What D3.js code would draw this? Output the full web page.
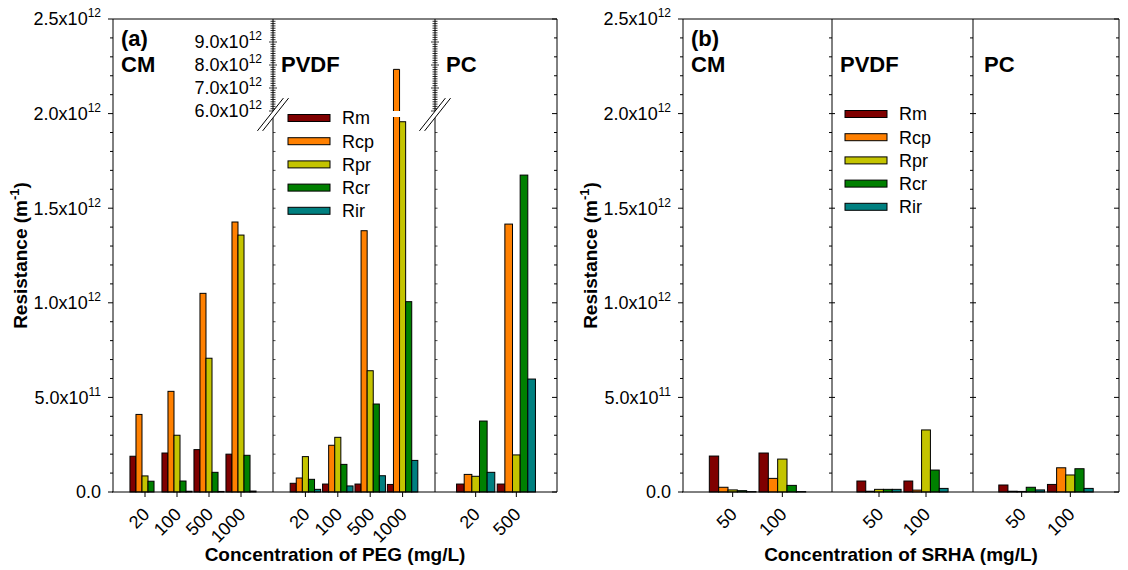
<!DOCTYPE html>
<html>
<head>
<meta charset="utf-8">
<script src="https://cdn.jsdelivr.net/npm/d3@7"></script>
<style>
  body { margin: 0; background: #fff; }
  svg { display: block; font-family: Arial, "Liberation Sans", sans-serif; }
  .bold { font-weight: bold; }
</style>
</head>
<body>
<script>
var series = ["Rm", "Rcp", "Rpr", "Rcr", "Rir"];
var seriesColors = ["#7f0000", "#ff8000", "#c4c400", "#008000", "#008080"];
var membranes = ["CM", "PVDF", "PC"];

var pegConcCM = ["20", "100", "500", "1000"];
var pegConcPVDF = ["20", "100", "500", "1000"];
var pegConcPC = ["20", "500"];
var srhaConc = ["50", "100"];

// resistance in 1e12 m^-1, one row per concentration (Rm, Rcp, Rpr, Rcr, Rir)
var pegCM = [
    [0.189, 0.410, 0.085, 0.057, 0.000],
    [0.206, 0.532, 0.300, 0.058, 0.004],
    [0.224, 1.050, 0.707, 0.104, 0.003],
    [0.200, 1.427, 1.358, 0.194, 0.005]];
var pegPVDF = [
    [0.046, 0.074, 0.187, 0.067, 0.014],
    [0.042, 0.247, 0.289, 0.146, 0.032],
    [0.042, 1.381, 0.641, 0.465, 0.086],
    [0.040, 7.810, 1.957, 1.006, 0.167]];
var pegPC = [
    [0.042, 0.093, 0.083, 0.375, 0.104],
    [0.042, 1.416, 0.196, 1.675, 0.597]];
var srhaCM = [
    [0.190, 0.025, 0.011, 0.007, 0.002],
    [0.206, 0.072, 0.174, 0.035, 0.002]];
var srhaPVDF = [
    [0.058, 0.004, 0.014, 0.014, 0.014],
    [0.058, 0.010, 0.328, 0.116, 0.019]];
var srhaPC = [
    [0.037, 0.004, 0.003, 0.025, 0.011],
    [0.040, 0.128, 0.090, 0.123, 0.019]];

var yTicks = [0, 0.5, 1.0, 1.5, 2.0, 2.5];
var upperTicks = [6, 7, 8, 9];

var width = 1128, height = 570;
var plotTop = 19, plotBottom = 492;

var svg = d3.select("body").append("svg")
    .attr("width", width)
    .attr("height", height);

var y = d3.scaleLinear().domain([0, 2.5]).range([plotBottom, plotTop]);
// upper part of the broken axis (panel a)
var yUp = d3.scaleLinear().domain([6, 10]).range([111, plotTop]);
var breakLow = 117;

var panels = [
    {tag: "(a)", x0: 113, x1: 557, splits: [0, 160, 322, 444],
     conc: [pegConcCM, pegConcPVDF, pegConcPC], values: [pegCM, pegPVDF, pegPC],
     xTitle: "Concentration of PEG (mg/L)", legendX: 288, legendY: 118, broken: true},
    {tag: "(b)", x0: 683, x1: 1119, splits: [0, 149, 290, 436],
     conc: [srhaConc, srhaConc, srhaConc], values: [srhaCM, srhaPVDF, srhaPC],
     xTitle: "Concentration of SRHA (mg/L)", legendX: 845, legendY: 114, broken: false}
];

function sciLabel(sel, v) {
    if (v === 0) { sel.text("0.0"); return; }
    var exp = Math.floor(Math.log10(v * 1e12) + 1e-9);
    var mant = v * 1e12 / Math.pow(10, exp);
    sel.append("tspan").text(mant.toFixed(1) + "x10");
    sel.append("tspan").attr("dy", -8).style("font-size", "12px").text(exp);
}

panels.forEach(function(p) {
    var g = svg.append("g");
    var minor = d3.range(0, 2.501, 0.1);

    // bars first, frame lines on top
    var barLayer = g.append("g");

    g.append("line").attr("x1", p.x0).attr("x2", p.x1).attr("y1", plotTop).attr("y2", plotTop).attr("stroke", "#000");
    g.append("line").attr("x1", p.x0 - 1).attr("x2", p.x1).attr("y1", plotBottom).attr("y2", plotBottom).attr("stroke", "#000");
    g.append("line").attr("x1", p.x0).attr("x2", p.x0).attr("y1", plotTop).attr("y2", plotBottom).attr("stroke", "#000");
    g.append("line").attr("x1", p.x1).attr("x2", p.x1).attr("y1", plotTop).attr("y2", plotBottom).attr("stroke", "#000");

    // left ticks (outward) and right ticks (inward)
    g.selectAll(".lt").data(minor).enter().append("line")
        .attr("x1", function(d, i) { return p.x0 - (i % 5 === 0 ? 5 : 3); })
        .attr("x2", p.x0)
        .attr("y1", function(d) { return y(d); }).attr("y2", function(d) { return y(d); })
        .attr("stroke", "#000");
    g.selectAll(".rt").data(minor).enter().append("line")
        .attr("x1", function(d, i) { return p.x1 - (i % 5 === 0 ? 5 : 3); })
        .attr("x2", p.x1)
        .attr("y1", function(d) { return y(d); }).attr("y2", function(d) { return y(d); })
        .attr("stroke", "#000");

    g.selectAll(".ylab").data(yTicks).enter().append("text")
        .attr("x", p.x0 - 12)
        .attr("y", function(d) { return y(d); })
        .attr("dy", "0.35em")
        .attr("text-anchor", "end")
        .style("font-size", "18px")
        .each(function(d) { sciLabel(d3.select(this), d); });

    // y title
    var yt = g.append("text")
        .attr("class", "bold")
        .attr("transform", "translate(" + (p.x0 - 86) + "," + ((plotTop + plotBottom) / 2) + ") rotate(-90)")
        .attr("text-anchor", "middle")
        .style("font-size", "19px");
    yt.append("tspan").text("Resistance (m");
    yt.append("tspan").attr("dy", -8).style("font-size", "13px").text("-1");
    yt.append("tspan").attr("dy", 8).text(")");

    // x title
    g.append("text")
        .attr("class", "bold")
        .attr("x", (p.x0 + p.x1) / 2)
        .attr("y", 561)
        .attr("text-anchor", "middle")
        .style("font-size", "19px")
        .text(p.xTitle);

    membranes.forEach(function(m, k) {
        var px0 = p.x0 + p.splits[k], px1 = p.x0 + p.splits[k + 1];
        var conc = p.conc[k], vals = p.values[k];
        var xs = d3.scaleLinear().domain([0, conc.length + 1]).range([px0, px1]);
        var unit = xs(1) - xs(0);
        var inner = d3.scaleBand().domain(series).range([-0.47 * unit, 0.47 * unit]);

        // divider with ticks
        if (k > 0) {
            g.append("line").attr("x1", px0).attr("x2", px0).attr("y1", plotTop).attr("y2", plotBottom).attr("stroke", "#000");
            g.selectAll(".dt" + k).data(minor.slice(1, p.broken ? 20 : 25)).enter().append("line")
                .attr("x1", function(d, i) { return px0 - (p.broken ? 0 : 3); })
                .attr("x2", function(d, i) { return px0 + (p.broken ? 2.5 : ((i + 1) % 5 === 0 ? 3 : 0)); })
                .attr("y1", function(d) { return y(d); }).attr("y2", function(d) { return y(d); })
                .attr("stroke", "#000").attr("stroke-width", p.broken ? 0.7 : 1);
            if (p.broken) {
                var up = d3.range(6, 9.951, 0.1);
                g.selectAll(".ut" + k).data(up).enter().append("line")
                    .attr("x1", function(d, i) { return px0 - (i % 10 === 0 ? 4 : 2.5); })
                    .attr("x2", function(d, i) { return px0 + (i % 10 === 0 ? 4 : 2.5); })
                    .attr("y1", function(d) { return yUp(d); }).attr("y2", function(d) { return yUp(d); })
                    .attr("stroke", "#000").attr("stroke-width", 0.8);
                if (k === 1) {
                    g.selectAll(".ul").data(upperTicks).enter().append("text")
                        .attr("x", px0 - 11)
                        .attr("y", function(d) { return yUp(d); })
                        .attr("dy", "0.35em")
                        .attr("text-anchor", "end")
                        .style("font-size", "18px")
                        .each(function(d) { sciLabel(d3.select(this), d); });
                }
                // break marks
                var cy = 114.5, hx = 13, hy = 16.4, off = 2.6;
                g.append("path")
                    .attr("d", "M" + (px0 - hx - off) + "," + (cy + hy) + "L" + (px0 + hx - off) + "," + (cy - hy) +
                        "L" + (px0 + hx + off) + "," + (cy - hy) + "L" + (px0 - hx + off) + "," + (cy + hy) + "Z")
                    .attr("fill", "#fff");
                [-off, off].forEach(function(o) {
                    g.append("line")
                        .attr("x1", px0 - hx + o).attr("y1", cy + hy)
                        .attr("x2", px0 + hx + o).attr("y2", cy - hy)
                        .attr("stroke", "#000");
                });
            }
        }

        // membrane label
        if (k === 0) {
            g.append("text").attr("class", "bold").attr("x", px0 + 8).attr("y", 46)
                .style("font-size", "22px").text(p.tag);
        }
        g.append("text").attr("class", "bold")
            .attr("x", px0 + (k === 2 ? 11 : 8)).attr("y", 72)
            .style("font-size", "22px").text(m);

        // x ticks and labels
        g.selectAll(".xt" + k).data(conc).enter().append("line")
            .attr("x1", function(d, i) { return xs(i + 1); })
            .attr("x2", function(d, i) { return xs(i + 1); })
            .attr("y1", plotBottom).attr("y2", plotBottom + 5)
            .attr("stroke", "#000");
        g.selectAll(".xl" + k).data(conc).enter().append("text")
            .attr("transform", function(d, i) { return "translate(" + (xs(i + 1) + 1) + "," + (plotBottom + 19) + ") rotate(-45)"; })
            .attr("text-anchor", "end")
            .attr("dy", "0.35em")
            .style("font-size", "18px")
            .text(function(d) { return d; });

        // bars
        vals.forEach(function(row, i) {
            var cx = xs(i + 1);
            row.forEach(function(v, j) {
                var bx = cx + inner(series[j]), bw = inner.bandwidth();
                if (v > 2.5) {
                    var yt2 = yUp(v), yb2 = yUp(6);
                    barLayer.append("rect").attr("x", bx).attr("y", breakLow).attr("width", bw).attr("height", plotBottom - breakLow)
                        .attr("fill", seriesColors[j]);
                    barLayer.append("rect").attr("x", bx).attr("y", yt2).attr("width", bw).attr("height", yb2 - yt2)
                        .attr("fill", seriesColors[j]);
                    barLayer.append("path")
                        .attr("d", "M" + bx + "," + breakLow + "V" + plotBottom + "H" + (bx + bw) + "V" + breakLow +
                            "M" + bx + "," + yb2 + "V" + yt2 + "H" + (bx + bw) + "V" + yb2)
                        .attr("fill", "none").attr("stroke", "#000");
                } else {
                    barLayer.append("rect")
                        .attr("x", bx).attr("y", y(v))
                        .attr("width", bw).attr("height", plotBottom - y(v))
                        .attr("fill", seriesColors[j])
                        .attr("stroke", "#000");
                }
            });
        });
    });

    // legend
    var lg = g.selectAll(".leg").data(series).enter().append("g")
        .attr("transform", function(d, i) { return "translate(" + p.legendX + "," + (p.legendY + i * 23.2) + ")"; });
    lg.append("rect")
        .attr("x", 0).attr("y", -3.5).attr("width", 42).attr("height", 7)
        .attr("fill", function(d, i) { return seriesColors[i]; })
        .attr("stroke", "#000");
    lg.append("text")
        .attr("x", 54).attr("dy", "0.35em")
        .style("font-size", "18px")
        .text(function(d) { return d; });
});
</script>
</body>
</html>
